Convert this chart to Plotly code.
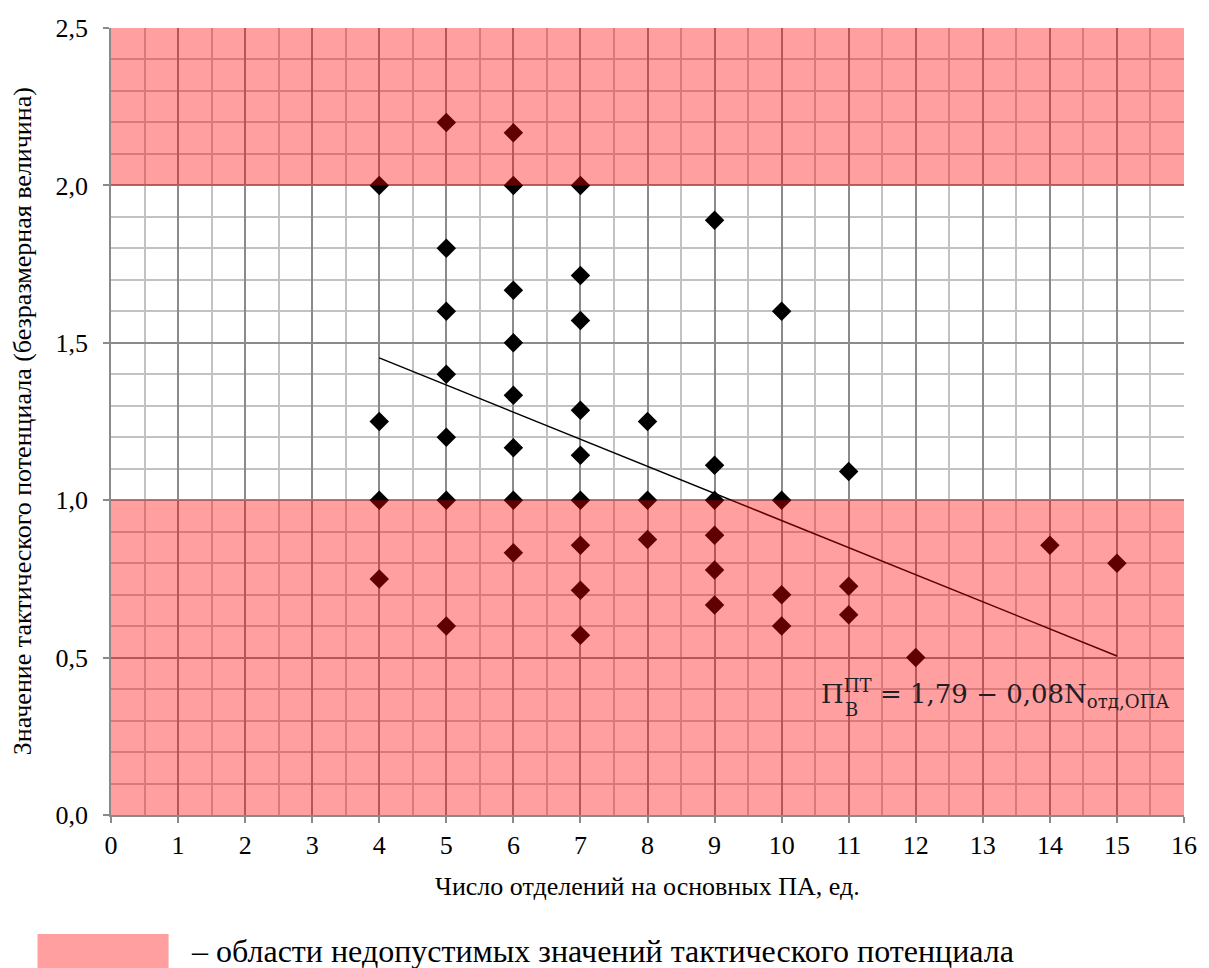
import plotly.graph_objects as go

# ---- data ----
n_units = [4, 4, 4, 4,
           5, 5, 5, 5, 5, 5, 5,
           6, 6, 6, 6, 6, 6, 6, 6,
           7, 7, 7, 7, 7, 7, 7, 7, 7,
           8, 8, 8,
           9, 9, 9, 9, 9, 9,
           10, 10, 10, 10,
           11, 11, 11,
           12, 14, 15]
potential = [2.0, 1.25, 1.0, 0.75,
             2.2, 1.8, 1.6, 1.4, 1.2, 1.0, 0.6,
             2.167, 2.0, 1.667, 1.5, 1.333, 1.167, 1.0, 0.833,
             2.0, 1.714, 1.571, 1.286, 1.143, 1.0, 0.857, 0.714, 0.571,
             1.25, 1.0, 0.875,
             1.889, 1.111, 1.0, 0.889, 0.778, 0.667,
             1.6, 1.0, 0.7, 0.6,
             1.091, 0.727, 0.636,
             0.5, 0.857, 0.8]
trend_x = [4, 15]
trend_y = [1.452, 0.505]
bad_zones = [(0.0, 1.0), (2.0, 2.5)]
x_ticks = list(range(0, 17))

W, H = 1209, 968
L, R, T, B = 111, 17, 28, 153
pw, ph = W - L - R, H - T - B


def px(xp):
    return (xp - L) / pw


def py(yp):
    return (H - B - yp) / ph


fig = go.Figure()
fig.add_trace(go.Scatter(x=n_units, y=potential, mode="markers",
                         marker=dict(symbol="diamond", size=15, color="black",
                                     line=dict(width=0)),
                         showlegend=False, hoverinfo="skip"))
fig.add_trace(go.Scatter(x=trend_x, y=trend_y, mode="lines",
                         line=dict(color="black", width=1.5),
                         showlegend=False, hoverinfo="skip"))

for y0, y1 in bad_zones:
    fig.add_shape(type="rect", xref="x", yref="y", x0=0, x1=16, y0=y0, y1=y1,
                  fillcolor="rgba(255,0,0,0.376)", line=dict(width=0), layer="above")

font_main = "Liberation Serif"
eq_family = "DejaVu Serif"

fig.update_layout(
    width=W, height=H,
    margin=dict(l=L, r=R, t=T, b=B),
    paper_bgcolor="white", plot_bgcolor="white",
    separators=", ",
    font=dict(family=font_main, size=26, color="black"),
    xaxis=dict(range=[0, 16], tickmode="array", tickvals=x_ticks,
               ticktext=[str(v) for v in x_ticks],
               showgrid=True, gridcolor="#8a8a8a", gridwidth=1.5,
               minor=dict(dtick=0.5, showgrid=True, gridcolor="#c2c2c2", gridwidth=1.5),
               showline=True, linecolor="#8a8a8a", linewidth=1.5,
               ticks="outside", ticklen=6, tickcolor="#8a8a8a", tickwidth=1.5,
               zeroline=False, tickfont=dict(family=font_main, size=26)),
    yaxis=dict(range=[0, 2.5], tickmode="linear", tick0=0, dtick=0.5, tickformat=".1f",
               showgrid=True, gridcolor="#8a8a8a", gridwidth=1.5,
               minor=dict(dtick=0.1, showgrid=True, gridcolor="#c2c2c2", gridwidth=1.5),
               showline=True, linecolor="#8a8a8a", linewidth=1.5,
               ticks="outside", ticklen=6, tickcolor="#8a8a8a", tickwidth=1.5,
               ticklabelstandoff=10,
               zeroline=False, tickfont=dict(family=font_main, size=26)),
)

# axis titles
fig.add_annotation(text="Число отделений на основных ПА, ед.", xref="paper", yref="paper",
                   x=0.5, y=py(887), xanchor="center", yanchor="middle",
                   showarrow=False, font=dict(family=font_main, size=26))
fig.add_annotation(text="Значение тактического потенциала (безразмерная величина)",
                   xref="paper", yref="paper", x=px(22), y=0.5, textangle=-90,
                   xanchor="center", yanchor="middle", showarrow=False,
                   font=dict(family=font_main, size=26))

# regression equation
eq_font = dict(family=eq_family, size=26, color="#1e1e28")
fig.add_annotation(text="П<sup>ПТ</sup> = 1,79 − 0,08N<sub>отд,ОПА</sub>",
                   xref="paper", yref="paper", x=px(824), y=py(693),
                   xanchor="left", yanchor="middle", showarrow=False, font=eq_font)
fig.add_annotation(text="В", xref="paper", yref="paper", x=px(848), y=py(709),
                   xanchor="left", yanchor="middle", showarrow=False,
                   font=dict(family=eq_family, size=18, color="#1e1e28"))

# legend
fig.add_shape(type="rect", xref="paper", yref="paper", x0=px(37), x1=px(169),
              y0=py(934), y1=py(972), fillcolor="#ff9f9f", line=dict(width=0), layer="above")
fig.add_annotation(text="– области недопустимых значений тактического потенциала",
                   xref="paper", yref="paper", x=px(190), y=py(951),
                   xanchor="left", yanchor="middle", showarrow=False,
                   font=dict(family=font_main, size=32))

fig.write_html("out.html")
